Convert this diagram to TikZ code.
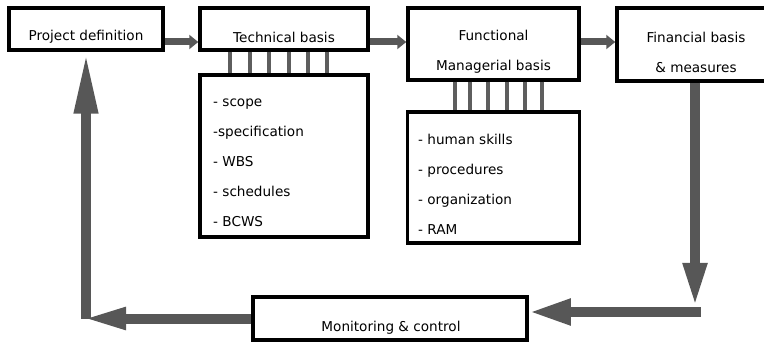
\documentclass[tikz,border=0pt]{standalone}
\usepackage{fontspec}
\setmainfont{DejaVu Sans}
\usetikzlibrary{arrows.meta,calc}
\definecolor{arrowgray}{HTML}{575757}
\definecolor{bargray}{HTML}{5E5E5E}
\begin{document}
\begin{tikzpicture}[x=1pt,y=-1pt,
    every node/.style={font=\fontsize{13.6}{30}\selectfont, inner sep=0pt},
    box/.style={draw, line width=3.5pt, fill=white},
    bar/.style={bargray, line width=3.5pt},
    thinarrow/.style={arrowgray, line width=7pt, -{Triangle[width=14pt,length=9pt]}},
    fatarrow/.style={arrowgray, line width=10pt}]
    \useasboundingbox (0,0) rectangle (764,342);

    % boxes
    \node[box, minimum width=154pt, minimum height=42pt] (proj) at (86,29) {};
    \node[box, minimum width=168pt, minimum height=42pt] (tech) at (284,29) {};
    \node[box, minimum width=168pt, minimum height=162pt] (techlist) at (284,156) {};
    \node[box, minimum width=171pt, minimum height=72pt] (func) at (493.5,44) {};
    \node[box, minimum width=172pt, minimum height=131pt] (funclist) at (493.5,177.5) {};
    \node[box, minimum width=158pt, minimum height=73pt] (fin) at (696,44.5) {};
    \node[box, minimum width=274pt, minimum height=43pt] (mon) at (390,318.5) {};

    % texts
    \node (projtxt) at (86,37) {Project definition};
    \node (techtxt) at (284,37) {Technical basis};
    \node[align=center] (functxt) at (493.5,52) {Functional\\Managerial basis};
    \node[align=center] (fintxt) at (696,52) {Financial basis\\\& measures};
    \node (montxt) at (391,328) {Monitoring \& control};
    \node[anchor=west, align=left] (techitems) at (213,163)
        {- scope\\-specification\\- WBS\\- schedules\\- BCWS};
    \node[anchor=west, align=left] (funcitems) at (418,184)
        {- human skills\\- procedures\\- organization\\- RAM};

    % bars between the basis boxes and their lists
    \foreach \d in {-54,-34,-15,5,24,43}
        \draw[bar] ($(tech.south)+(\d,0)$) -- ($(techlist.north)+(\d,0)$);
    \foreach \d in {-38.5,-23.5,-5.5,13.5,31.5,48.5}
        \draw[bar] ($(func.south)+(\d,0)$) -- ($(funclist.north)+(\d,0)$);

    % arrows along the top
    \draw[thinarrow] ($(proj.east)+(0,13)$) -- ($(tech.west)+(0,13)$);
    \draw[thinarrow] ($(tech.east)+(0,13)$) -- ($(func.west)+(0,-2)$);
    \draw[thinarrow] ($(func.east)+(0,-2)$) -- ($(fin.west)+(0,-2.5)$);

    % feedback loop
    \coordinate (rturn) at (695,307);
    \coordinate (lturn) at (82,318.5);
    \draw[fatarrow, -{Triangle[width=22pt,length=44pt]}] (fin.south -| rturn) -- (rturn);
    \draw[fatarrow, -{Triangle[width=24pt,length=42pt]}] ($(rturn)+(5.5,5)$) -- ($(mon.east)+(0,-6.5)$);
    \draw[fatarrow, -{Triangle[width=20pt,length=44pt]}] (mon.west) -- (lturn);
    \draw[fatarrow, -{Triangle[width=22pt,length=62pt]}] (lturn -| proj.south) -- (proj.south);
\end{tikzpicture}
\end{document}
